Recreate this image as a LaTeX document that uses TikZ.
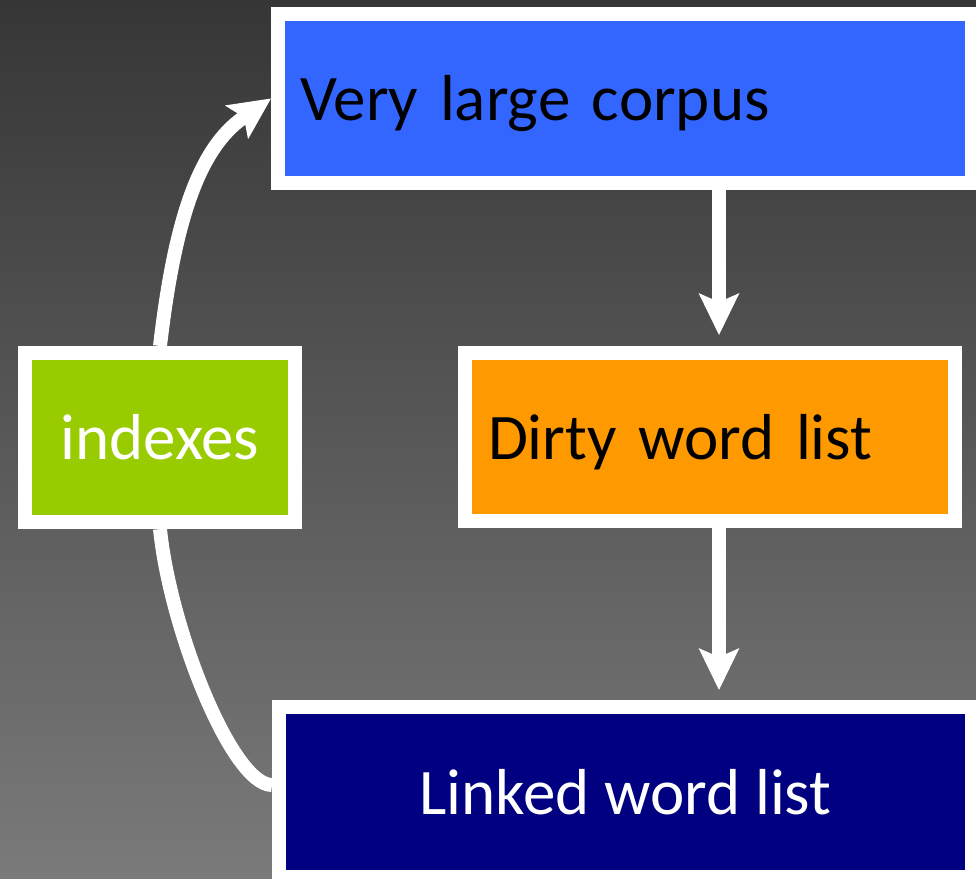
\documentclass[tikz,border=0pt]{standalone}
\usepackage{fontspec}
\setmainfont{Carlito}
\usetikzlibrary{arrows.meta}

\definecolor{corpusblue}{RGB}{51,102,255}
\definecolor{dirtyorange}{RGB}{255,153,0}
\definecolor{indexgreen}{RGB}{153,204,0}
\definecolor{linkednavy}{RGB}{0,0,128}
\definecolor{bgtop}{RGB}{54,54,54}
\definecolor{bgmid}{RGB}{97,97,97}
\definecolor{bgbottom}{RGB}{122,122,122}

\pgfdeclarelayer{back}
\pgfdeclarelayer{shadowlayer}
\pgfsetlayers{back,shadowlayer,main}

\tikzstyle{stage}=[draw=white, line width=14pt, rectangle, inner sep=0pt, text height=44pt, text depth=0pt, font=\fontsize{65}{78}\selectfont]
\tikzstyle{link}=[draw=white, line width=14pt]
\tikzstyle{flow}=[link, -{Stealth[length=42pt, width=41pt, inset=9pt, line width=0pt]}]
\tikzstyle{castshadow}=[draw=black, opacity=0.3, shift={(5pt,-4pt)}]

\begin{document}
\begin{tikzpicture}[x=1pt, y=-1pt]

\clip (0,0) rectangle (976,878);
\begin{pgfonlayer}{back}
\shade[top color=bgtop, middle color=bgmid, bottom color=bgbottom] (0,0) rectangle (976,878);
\end{pgfonlayer}

% the four stages
\node[stage, fill=corpusblue, minimum width=694pt, minimum height=169pt, text width=650pt, align=left] (corpus) at (625,98.5) {Very large corpus};
\node[stage, fill=dirtyorange, minimum width=490pt, minimum height=168pt, text width=444pt, align=left] (dirty) at (710,437) {Dirty word list};
\node[stage, fill=indexgreen, text=white, minimum width=270pt, minimum height=169pt, align=center] (idx) at (160,437.5) {indexes};
\node[stage, fill=linkednavy, text=white, minimum width=693pt, minimum height=170pt, align=center] (linked) at (625.5,792) {Linked word list};

% shadows under the connectors
\begin{pgfonlayer}{shadowlayer}
\draw[flow, castshadow, shorten >=11pt] ([xshift=94pt]corpus.south) -- ([xshift=9pt]dirty.north);
\draw[flow, castshadow, shorten >=10pt] ([xshift=9pt]dirty.south) -- ([xshift=93.5pt]linked.north);
\draw[flow, castshadow] (idx.north) .. controls +(14,-120) and +(-74,51) .. (corpus.west);
\draw[link, castshadow] (idx.south) .. controls +(10,100) and +(-40,0) .. ([yshift=7pt]linked.west);
\end{pgfonlayer}

% connectors
\draw[flow, shorten >=11pt] ([xshift=94pt]corpus.south) -- ([xshift=9pt]dirty.north);
\draw[flow, shorten >=10pt] ([xshift=9pt]dirty.south) -- ([xshift=93.5pt]linked.north);
\draw[flow] (idx.north) .. controls +(14,-120) and +(-74,51) .. (corpus.west);
\draw[link] (idx.south) .. controls +(10,100) and +(-40,0) .. ([yshift=7pt]linked.west);

\end{tikzpicture}
\end{document}
